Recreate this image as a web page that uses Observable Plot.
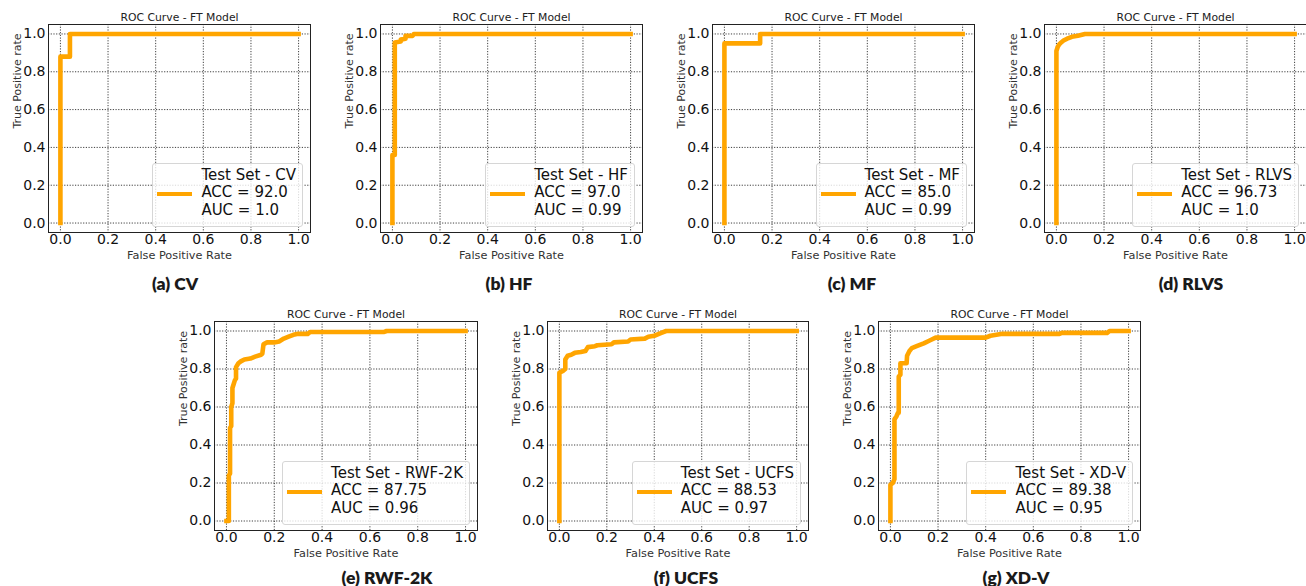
<!DOCTYPE html>
<html>
<head>
<meta charset="utf-8">
<script src="https://cdn.jsdelivr.net/npm/d3@7"></script>
<script src="https://cdn.jsdelivr.net/npm/@observablehq/plot@0.6"></script>
<style>
  html, body { margin: 0; padding: 0; background: #fff; }
  #root { position: relative; width: 1306px; height: 586px; overflow: hidden; background: #fff; }
  .panel { position: absolute; }
  .panel svg { overflow: visible; max-width: none !important; }
  .legend {
    position: absolute; box-sizing: border-box;
    border: 1px solid #d6d6d6; border-radius: 3px;
    background: rgba(255,255,255,0.8);
    padding: 3px 6px 7px 48px;
    font-family: "DejaVu Sans", sans-serif; font-size: 15px; line-height: 17.5px; color: #111;
    white-space: nowrap;
  }
  .legend .handle { position: absolute; left: 4px; width: 35px; height: 4.5px; background: #FFA500; }
  .caption {
    position: absolute; transform: translate(-50%, -50%);
    font-family: "Lato", "Open Sans", sans-serif; font-weight: 800; font-size: 17.5px; color: #1a1a1a;
    white-space: nowrap;
  }
</style>
</head>
<body>
<div id="root"></div>
<script>
// ---- data ----
const datasets = ["CV", "HF", "MF", "RLVS", "RWF-2K", "UCFS", "XD-V"];
const captionLetters = ["a", "b", "c", "d", "e", "f", "g"];
const accLabels = ["92.0", "97.0", "85.0", "96.73", "87.75", "88.53", "89.38"];
const aucLabels = ["1.0", "0.99", "0.99", "1.0", "0.96", "0.97", "0.95"];
const axisTicks = [0, 0.2, 0.4, 0.6, 0.8, 1.0];
const chartTitle = "ROC Curve - FT Model";
const xLabel = "False Positive Rate";
const yLabel = "True Positive rate";

const fprCV = [0, 0, 0.04, 0.04, 1.0];
const tprCV = [0, 0.88, 0.88, 1.0, 1.0];

const fprHF = [0, 0, 0.01, 0.01, 0.035, 0.035, 0.055, 0.055, 0.085, 0.09, 1.0];
const tprHF = [0, 0.36, 0.36, 0.955, 0.96, 0.97, 0.975, 0.99, 0.99, 1.0, 1.0];

const fprMF = [0, 0, 0.15, 0.15, 1.0];
const tprMF = [0, 0.95, 0.95, 1.0, 1.0];

const fprRLVS = [0, 0, 0.005, 0.012, 0.02, 0.03, 0.045, 0.065, 0.09, 0.12, 1.0];
const tprRLVS = [0, 0.91, 0.93, 0.945, 0.955, 0.965, 0.975, 0.985, 0.99, 1.0, 1.0];

const fprRWF = [0, 0.01, 0.01, 0.015, 0.015, 0.02, 0.02, 0.025, 0.025, 0.03, 0.035, 0.04, 0.04, 0.05, 0.06, 0.075, 0.1, 0.12, 0.145, 0.15, 0.155, 0.17, 0.2, 0.22, 0.24, 0.26, 0.28, 0.3, 0.34, 0.35, 0.66, 0.67, 1.0];
const tprRWF = [0, 0, 0.24, 0.25, 0.49, 0.5, 0.6, 0.62, 0.70, 0.72, 0.74, 0.75, 0.81, 0.83, 0.84, 0.85, 0.855, 0.865, 0.875, 0.88, 0.93, 0.94, 0.94, 0.945, 0.96, 0.97, 0.98, 0.985, 0.985, 0.995, 0.995, 1.0, 1.0];

const fprUCFS = [0, 0, 0.015, 0.025, 0.025, 0.035, 0.05, 0.065, 0.09, 0.11, 0.12, 0.15, 0.16, 0.22, 0.23, 0.29, 0.3, 0.36, 0.375, 0.4, 0.42, 0.43, 0.45, 1.0];
const tprUCFS = [0, 0.78, 0.79, 0.8, 0.85, 0.87, 0.875, 0.885, 0.89, 0.895, 0.915, 0.92, 0.925, 0.93, 0.94, 0.945, 0.955, 0.96, 0.97, 0.975, 0.985, 0.99, 1.0, 1.0];

const fprXDV = [0, 0, 0.01, 0.017, 0.017, 0.025, 0.032, 0.035, 0.035, 0.042, 0.042, 0.068, 0.07, 0.08, 0.09, 0.11, 0.14, 0.165, 0.19, 0.4, 0.42, 0.47, 0.71, 0.72, 0.91, 0.92, 1.0];
const tprXDV = [0, 0.19, 0.2, 0.22, 0.535, 0.55, 0.57, 0.57, 0.76, 0.77, 0.83, 0.83, 0.87, 0.895, 0.91, 0.92, 0.935, 0.95, 0.965, 0.965, 0.975, 0.985, 0.985, 0.99, 0.99, 1.0, 1.0];

const curves = [
  [fprCV, tprCV], [fprHF, tprHF], [fprMF, tprMF], [fprRLVS, tprRLVS],
  [fprRWF, tprRWF], [fprUCFS, tprUCFS], [fprXDV, tprXDV]
];

// ---- layout (frame positions in page pixels) ----
const frames = [
  {left: 48, top: 24, w: 262, h: 208, cap: [175, 283]},
  {left: 380, top: 24, w: 262, h: 208, cap: [509, 283]},
  {left: 712, top: 24, w: 262, h: 208, cap: [852, 283]},
  {left: 1044, top: 24, w: 262, h: 208, cap: [1191, 283]},
  {left: 214, top: 321, w: 263, h: 209, cap: [387, 577]},
  {left: 547, top: 321, w: 261, h: 209, cap: [686, 577]},
  {left: 878, top: 321, w: 262, h: 209, cap: [1016, 577]}
];
const ML = 48, MR = 10, MT = 24, MB = 64;
const ORANGE = "#FFA500";
const fmt = d3.format(".1f");

const root = document.getElementById("root");

datasets.forEach((name, i) => {
  const f = frames[i];
  const [fpr, tpr] = curves[i];
  const pts = fpr.map((x, k) => ({fpr: x, tpr: tpr[k]}));
  const W = ML + f.w + MR, H = MT + f.h + MB;

  const chart = Plot.plot({
    width: W,
    height: H,
    marginLeft: ML, marginRight: MR, marginTop: MT, marginBottom: MB,
    x: {domain: [-0.05, 1.05]},
    y: {domain: [-0.05, 1.05]},
    style: {fontFamily: "DejaVu Sans, sans-serif", fontSize: "14px", color: "#111", background: "transparent"},
    marks: [
      Plot.gridX(axisTicks, {stroke: "#000", strokeOpacity: 0.95, strokeWidth: 0.8, strokeDasharray: "1.2,1.5"}),
      Plot.gridY(axisTicks, {stroke: "#000", strokeOpacity: 0.95, strokeWidth: 0.8, strokeDasharray: "1.2,1.5"}),
      Plot.line(pts, {x: "fpr", y: "tpr", stroke: ORANGE, strokeWidth: 4.6, strokeLinecap: "square", strokeLinejoin: "round"}),
      Plot.frame({stroke: "#222", strokeWidth: 1}),
      Plot.axisX(axisTicks, {tickSize: 0, tickPadding: 2, tickFormat: fmt, label: null, fontSize: 14}),
      Plot.axisY(axisTicks, {tickSize: 0, tickPadding: 3, tickFormat: fmt, label: null, fontSize: 14}),
      Plot.text([xLabel], {frameAnchor: "bottom", lineAnchor: "middle", dy: 23, fontSize: 11.3, fill: "#333"}),
      Plot.text([yLabel], {frameAnchor: "left", lineAnchor: "middle", dx: -31, rotate: -90, fontSize: 11, fill: "#333"}),
      Plot.text([chartTitle], {frameAnchor: "top", lineAnchor: "middle", dy: -6.5, fontSize: 10.8, fill: "#222"})
    ]
  });
  const wrap = document.createElement("div");
  wrap.className = "panel";
  wrap.style.left = (f.left - ML) + "px";
  wrap.style.top = (f.top - MT) + "px";
  wrap.style.width = W + "px";
  wrap.style.height = H + "px";
  wrap.appendChild(chart);
  root.appendChild(wrap);

  // legend
  const lg = document.createElement("div");
  lg.className = "legend";
  lg.style.right = (1306 - (f.left + f.w - 7)) + "px";
  lg.style.bottom = (586 - (f.top + f.h - 5)) + "px";
  const handle = document.createElement("div");
  handle.className = "handle";
  handle.style.top = "28px";
  lg.appendChild(handle);
  [`Test Set - ${name}`, `ACC = ${accLabels[i]}`, `AUC = ${aucLabels[i]}`].forEach(t => {
    const d = document.createElement("div");
    d.textContent = t;
    lg.appendChild(d);
  });
  root.appendChild(lg);

  // caption
  const cap = document.createElement("div");
  cap.className = "caption";
  cap.style.left = f.cap[0] + "px";
  cap.style.top = f.cap[1] + "px";
  cap.textContent = `(${captionLetters[i]}) ${name}`;
  root.appendChild(cap);
});
</script>
</body>
</html>
